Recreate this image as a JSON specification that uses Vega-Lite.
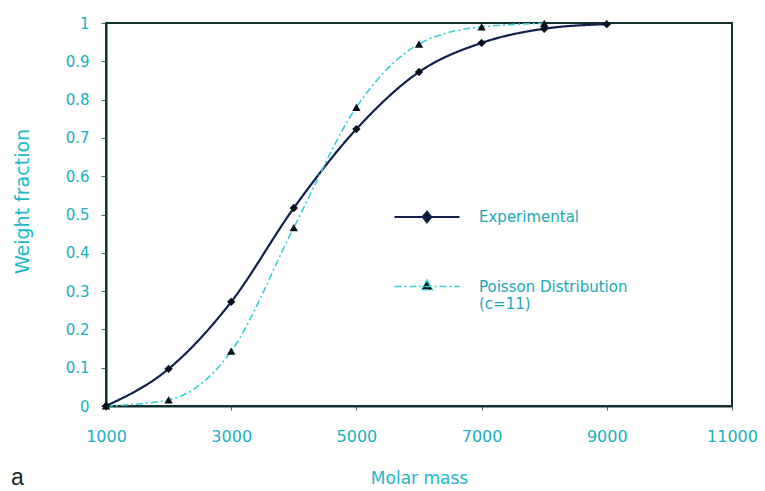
{
  "$schema": "https://vega.github.io/schema/vega-lite/v6.json",
  "width": 626,
  "height": 383,
  "autosize": "none",
  "padding": {"left": 106, "top": 23, "right": 33, "bottom": 85},
  "background": "white",
  "title": {
    "text": "a",
    "orient": "bottom",
    "anchor": "start",
    "frame": "group",
    "dx": -95,
    "offset": -19,
    "font": "Liberation Sans",
    "fontSize": 23,
    "fontWeight": "normal",
    "color": "#1a2a2a"
  },
  "data": {
    "values": [
      {"mass": 1000, "fraction": 0.0, "series": "Experimental"},
      {"mass": 2000, "fraction": 0.097, "series": "Experimental"},
      {"mass": 3000, "fraction": 0.272, "series": "Experimental"},
      {"mass": 4000, "fraction": 0.517, "series": "Experimental"},
      {"mass": 5000, "fraction": 0.723, "series": "Experimental"},
      {"mass": 6000, "fraction": 0.872, "series": "Experimental"},
      {"mass": 7000, "fraction": 0.948, "series": "Experimental"},
      {"mass": 8000, "fraction": 0.985, "series": "Experimental"},
      {"mass": 9000, "fraction": 0.997, "series": "Experimental"},
      {"mass": 1000, "fraction": 0.0, "series": "Poisson Distribution (c=11)"},
      {"mass": 2000, "fraction": 0.016, "series": "Poisson Distribution (c=11)"},
      {"mass": 3000, "fraction": 0.143, "series": "Poisson Distribution (c=11)"},
      {"mass": 4000, "fraction": 0.466, "series": "Poisson Distribution (c=11)"},
      {"mass": 5000, "fraction": 0.78, "series": "Poisson Distribution (c=11)"},
      {"mass": 6000, "fraction": 0.945, "series": "Poisson Distribution (c=11)"},
      {"mass": 7000, "fraction": 0.99, "series": "Poisson Distribution (c=11)"},
      {"mass": 8000, "fraction": 0.999, "series": "Poisson Distribution (c=11)"}
    ]
  },
  "encoding": {
    "x": {
      "field": "mass",
      "type": "quantitative",
      "scale": {"domain": [1000, 11000], "nice": false, "zero": false},
      "axis": {
        "title": "Molar mass",
        "values": [1000, 3000, 5000, 7000, 9000, 11000],
        "format": "d",
        "grid": false,
        "labelFlush": false,
        "tickSize": 4,
        "labelFontSize": 16,
        "labelPadding": 18,
        "titleFontSize": 17,
        "titlePadding": 26
      }
    },
    "y": {
      "field": "fraction",
      "type": "quantitative",
      "scale": {"domain": [0, 1], "nice": false},
      "axis": {
        "title": "Weight fraction",
        "values": [0, 0.1, 0.2, 0.3, 0.4, 0.5, 0.6, 0.7, 0.8, 0.9, 1],
        "format": ".1~f",
        "grid": false,
        "labelFlush": false,
        "tickSize": 5,
        "labelFontSize": 15,
        "labelPadding": 12,
        "titleFontSize": 19,
        "titlePadding": 33,
        "titleY": 178
      }
    }
  },
  "layer": [
    {
      "mark": {"type": "line", "interpolate": "monotone", "clip": false},
      "encoding": {
        "color": {
          "field": "series",
          "type": "nominal",
          "scale": {
            "domain": ["Experimental", "Poisson Distribution (c=11)"],
            "range": ["#10204a", "#36cfd8"]
          },
          "legend": {
            "title": null,
            "orient": "none",
            "legendX": 287,
            "legendY": 160,
            "symbolSize": 4225,
            "symbolStrokeWidth": 2,
            "rowPadding": 26,
            "labelOffset": 18,
            "labelFont": "DejaVu Sans",
            "labelFontSize": 15,
            "labelColor": "#1aa8b8",
            "labelLimit": 300,
            "labelExpr": "datum.label == 'Poisson Distribution (c=11)' ? ['Poisson Distribution', '(c=11)'] : datum.label",
            "encode": {
              "symbols": {
                "update": {
                  "shape": {
                    "signal": "datum.value == 'Experimental' ? 'M-1,0H1M0,-0.16L0.13,0L0,0.16L-0.13,0Z' : 'M-1,0H1M0,-0.2L0.17,0.1L-0.17,0.1Z'"
                  },
                  "fill": {"value": "#0a0f1a"}
                }
              }
            }
          }
        },
        "strokeDash": {
          "field": "series",
          "type": "nominal",
          "scale": {
            "domain": ["Experimental", "Poisson Distribution (c=11)"],
            "range": [[1, 0], [7, 3, 2, 3]]
          },
          "legend": null
        },
        "strokeWidth": {
          "field": "series",
          "type": "nominal",
          "scale": {
            "domain": ["Experimental", "Poisson Distribution (c=11)"],
            "range": [2.2, 1.6]
          },
          "legend": null
        }
      }
    },
    {
      "transform": [{"filter": "datum.series == 'Experimental'"}],
      "mark": {"type": "point", "shape": "diamond", "filled": true, "opacity": 1, "color": "#0a0f1a", "size": 70, "clip": false}
    },
    {
      "transform": [{"filter": "datum.series != 'Experimental'"}],
      "mark": {"type": "point", "shape": "triangle-up", "filled": true, "opacity": 1, "color": "#0a0f1a", "size": 70, "clip": false}
    }
  ],
  "config": {
    "view": {"stroke": "#13302f", "strokeWidth": 2},
    "axis": {
      "domainColor": "#13302f",
      "domainWidth": 2,
      "tickColor": "#3a6a70",
      "labelFont": "DejaVu Sans",
      "labelColor": "#1ab0c0",
      "titleFont": "DejaVu Sans",
      "titleFontWeight": "normal",
      "titleColor": "#20b8c8"
    }
  }
}
